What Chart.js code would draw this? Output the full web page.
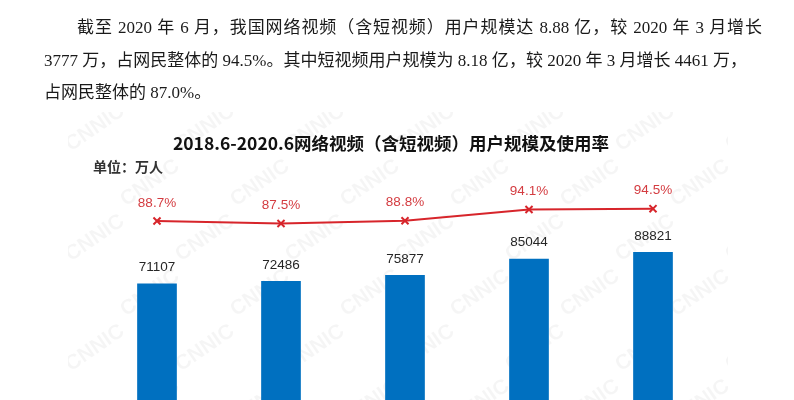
<!DOCTYPE html>
<html>
<head>
<meta charset="utf-8">
<script src="https://cdn.jsdelivr.net/npm/chart.js@4.4.0/dist/chart.umd.min.js"></script>
<style>
  html, body { margin: 0; padding: 0; width: 794px; height: 400px; overflow: hidden; background: #fff; }
  #chart { position: absolute; left: 0; top: 0; }
  .p { position: absolute; font-family: "Liberation Serif", "Noto Sans CJK SC", serif; font-size: 17px;
       color: #1a1a1a; white-space: nowrap; line-height: 24px; height: 24px; z-index: 2; }
  .j { text-align: justify; text-align-last: justify; }
</style>
</head>
<body>
<div class="p j" id="l1" style="left:77px; top:16px; width:685px;">截至 2020 年 6 月，我国网络视频（含短视频）用户规模达 8.88 亿，较 2020 年 3 月增长</div>
<div class="p j" id="l2" style="left:44px; top:49px; width:703px;">3777 万，占网民整体的 94.5%。其中短视频用户规模为 8.18 亿，较 2020 年 3 月增长 4461 万，</div>
<div class="p" id="l3" style="left:44px; top:81px;">占网民整体的 87.0%。</div>
<canvas id="chart" width="794" height="430"></canvas>
<script>
const categories = ['2018.6', '2018.12', '2019.6', '2020.3', '2020.6'];
const userCounts = [71107, 72486, 75877, 85044, 88821];
const usageRates = [88.7, 87.5, 88.8, 94.1, 94.5];
const titleText = '2018.6-2020.6网络视频（含短视频）用户规模及使用率';
const unitText = '单位：万人';
const watermarkText = 'CNNIC';

const decorPlugin = {
  id: 'decor',
  beforeDraw(chart) {
    const ctx = chart.ctx;
    ctx.save();
    ctx.beginPath();
    ctx.rect(68, 112, 660, 320);
    ctx.clip();
    ctx.fillStyle = 'rgba(0,0,0,0.04)';
    ctx.font = 'bold 21px "Liberation Sans", Arial, sans-serif';
    ctx.textAlign = 'center';
    ctx.textBaseline = 'middle';
    for (let i = -1; i < 8; i++) {
      for (let j = -1; j < 7; j++) {
        const x = 95 + i * 110 + (j % 2 ? 55 : 0);
        const y = 128 + j * 55;
        ctx.save();
        ctx.translate(x, y);
        ctx.rotate(-35 * Math.PI / 180);
        ctx.fillText(watermarkText, 0, 0);
        ctx.restore();
      }
    }
    ctx.restore();

    ctx.save();
    ctx.fillStyle = '#111';
    ctx.font = 'bold 17.5px "Noto Sans CJK SC", sans-serif';
    ctx.textAlign = 'center';
    ctx.textBaseline = 'middle';
    ctx.fillText(titleText, 391, 143.5);
    ctx.font = 'bold 14px "Noto Sans CJK SC", sans-serif';
    ctx.textAlign = 'left';
    ctx.fillStyle = '#333';
    ctx.fillText(unitText, 93, 166.5);
    ctx.restore();
  },
  afterDatasetsDraw(chart) {
    const ctx = chart.ctx;
    ctx.save();
    ctx.textAlign = 'center';
    ctx.textBaseline = 'middle';
    const barMeta = chart.getDatasetMeta(1);
    ctx.font = '13.5px "Liberation Sans", Arial, sans-serif';
    ctx.fillStyle = '#262626';
    barMeta.data.forEach((el, i) => {
      ctx.fillText(String(userCounts[i]), el.x, el.y - 16);
    });
    const lineMeta = chart.getDatasetMeta(0);
    ctx.font = '13.5px "Liberation Sans", Arial, sans-serif';
    ctx.fillStyle = '#d43c41';
    lineMeta.data.forEach((el, i) => {
      ctx.fillText(usageRates[i].toFixed(1) + '%', el.x, el.y - 18);
    });
    ctx.restore();
  }
};

new Chart(document.getElementById('chart'), {
  data: {
    labels: categories,
    datasets: [
      {
        type: 'line',
        label: '使用率',
        data: usageRates,
        yAxisID: 'y1',
        borderColor: '#d7252b',
        borderWidth: 2,
        tension: 0,
        pointStyle: 'crossRot',
        pointRadius: 5,
        pointBorderWidth: 2,
        pointBorderColor: '#d7252b',
        order: 0
      },
      {
        type: 'bar',
        label: '用户规模',
        data: userCounts,
        yAxisID: 'y',
        backgroundColor: '#0070c0',
        categoryPercentage: 0.32,
        barPercentage: 1,
        order: 1
      }
    ]
  },
  options: {
    responsive: false,
    animation: false,
    layout: { padding: { left: 95, right: 79, top: 197, bottom: 21 } },
    plugins: { legend: { display: false }, title: { display: false }, tooltip: { enabled: false } },
    scales: {
      x: { display: false, offset: true, grid: { display: false } },
      y: { display: false, min: 0, max: 120000 },
      y1: { display: false, min: 0, max: 100, position: 'right' }
    }
  },
  plugins: [decorPlugin]
});
</script>
</body>
</html>
